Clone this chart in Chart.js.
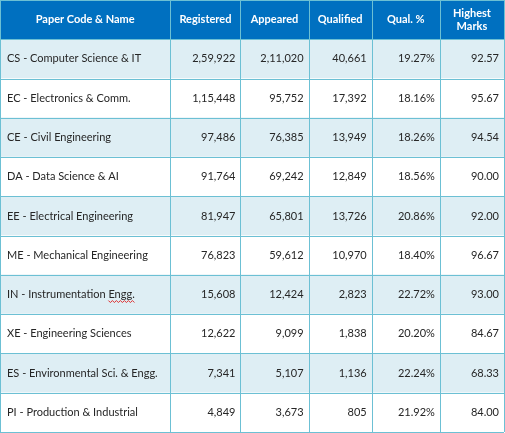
<!DOCTYPE html>
<html><head><meta charset="utf-8">
<script src="https://cdn.jsdelivr.net/npm/chart.js@4"></script>
<style>html,body{margin:0;padding:0;background:#fff}#wrap{width:505px;height:433px}</style>
</head><body><div id="wrap"><canvas id="tbl"></canvas></div>
<script>
const headers = ['Paper Code & Name', 'Registered', 'Appeared', 'Qualified', 'Qual. %', 'Highest\nMarks'];
const papers = ['CS - Computer Science & IT', 'EC - Electronics & Comm.', 'CE - Civil Engineering', 'DA - Data Science & AI',
	'EE - Electrical Engineering', 'ME - Mechanical Engineering', 'IN - Instrumentation Engg.', 'XE - Engineering Sciences',
	'ES - Environmental Sci. & Engg.', 'PI - Production & Industrial'];
const registered = ['2,59,922', '1,15,448', '97,486', '91,764', '81,947', '76,823', '15,608', '12,622', '7,341', '4,849'];
const appeared = ['2,11,020', '95,752', '76,385', '69,242', '65,801', '59,612', '12,424', '9,099', '5,107', '3,673'];
const qualified = ['40,661', '17,392', '13,949', '12,849', '13,726', '10,970', '2,823', '1,838', '1,136', '805'];
const qualPct = ['19.27%', '18.16%', '18.26%', '18.56%', '20.86%', '18.40%', '22.72%', '20.20%', '22.24%', '21.92%'];
const highest = ['92.57', '95.67', '94.54', '90.00', '92.00', '96.67', '93.00', '84.67', '68.33', '84.00'];

// column right edges in table units
const colEdges = [0, 170, 240, 308, 371, 439, 503];
const rowLabels = ['header'].concat(papers);
const columns = [papers, registered, appeared, qualified, qualPct, highest];

const tablePlugin = {
	id: 'tableText',
	afterDatasetsDraw(chart) {
		const c = chart.ctx, x = chart.scales.x, y = chart.scales.y;
		const half = (y.getPixelForValue(1) - y.getPixelForValue(0)) / 2;
		const top = y.getPixelForValue(0) - half, bottom = y.getPixelForValue(rowLabels.length - 1) + half;
		const px = colEdges.map(v => x.getPixelForValue(v));
		c.save();
		// grid
		c.strokeStyle = '#6cc0d4';
		c.lineWidth = 1;
		px.forEach((p, i) => {
			c.beginPath();
			c.strokeStyle = i === 0 || i === px.length - 1 ? '#6cc0d4' : '#6cc0d4';
			c.moveTo(Math.round(p) + 0.5, top); c.lineTo(Math.round(p) + 0.5, bottom); c.stroke();
		});
		for (let r = 0; r <= rowLabels.length; r++) {
			const yy = Math.round(r === rowLabels.length ? bottom : y.getPixelForValue(r) - half) + 0.5;
			c.beginPath(); c.moveTo(px[0], yy); c.lineTo(px[px.length - 1], yy); c.stroke();
		}
		// header text
		c.fillStyle = '#ffffff';
		c.font = 'bold 11px Lato, "Open Sans", sans-serif';
		c.textAlign = 'center'; c.textBaseline = 'middle';
		const hy = y.getPixelForValue(0);
		headers.forEach((h, i) => {
			const cx = (px[i] + px[i + 1]) / 2;
			const lines = h.split('\n');
			lines.forEach((l, k) => c.fillText(l, cx, hy + (k - (lines.length - 1) / 2) * 13));
		});
		// body
		c.fillStyle = '#262626';
		c.font = '11px Lato, "Open Sans", sans-serif';
		for (let r = 0; r < papers.length; r++) {
			const cy = y.getPixelForValue(r + 1);
			columns.forEach((col, i) => {
				if (i === 0) { c.textAlign = 'left'; c.fillText(col[r], px[0] + 7, cy); }
				else { c.textAlign = 'right'; c.fillText(col[r], px[i + 1] - 5, cy); }
			});
		}
		// spell-check squiggle under "Engg." in IN row
		const r6 = papers.findIndex(p => p.startsWith('IN'));
		const full = papers[r6], word = 'Engg.';
		const sx = px[0] + 7 + c.measureText(full.slice(0, full.indexOf(word))).width;
		const sw = c.measureText(word).width;
		const sy = y.getPixelForValue(r6 + 1) + 7;
		c.strokeStyle = '#e03030'; c.beginPath();
		for (let t = 0; t <= sw; t += 2) c.lineTo(sx + t, sy + ((t / 2) % 2 ? 1 : -1));
		c.stroke();
		c.restore();
	}
};

new Chart(document.getElementById('tbl'), {
	type: 'bar',
	data: {
		labels: rowLabels,
		datasets: [{
			data: rowLabels.map(() => colEdges[colEdges.length - 1]),
			backgroundColor: rowLabels.map((l, i) => i === 0 ? '#0070c0' : (i % 2 ? '#deeef4' : '#ffffff')),
			barPercentage: 1, categoryPercentage: 1, borderWidth: 0
		}]
	},
	options: {
		indexAxis: 'y',
		responsive: true, maintainAspectRatio: false, animation: false,
		layout: { padding: { left: 0, right: 1, top: 0, bottom: 1 } },
		scales: {
			x: { type: 'linear', min: 0, max: 503, display: false },
			y: { type: 'category', display: false }
		},
		plugins: { legend: { display: false }, tooltip: { enabled: false } }
	},
	plugins: [tablePlugin]
});
</script></body></html>
